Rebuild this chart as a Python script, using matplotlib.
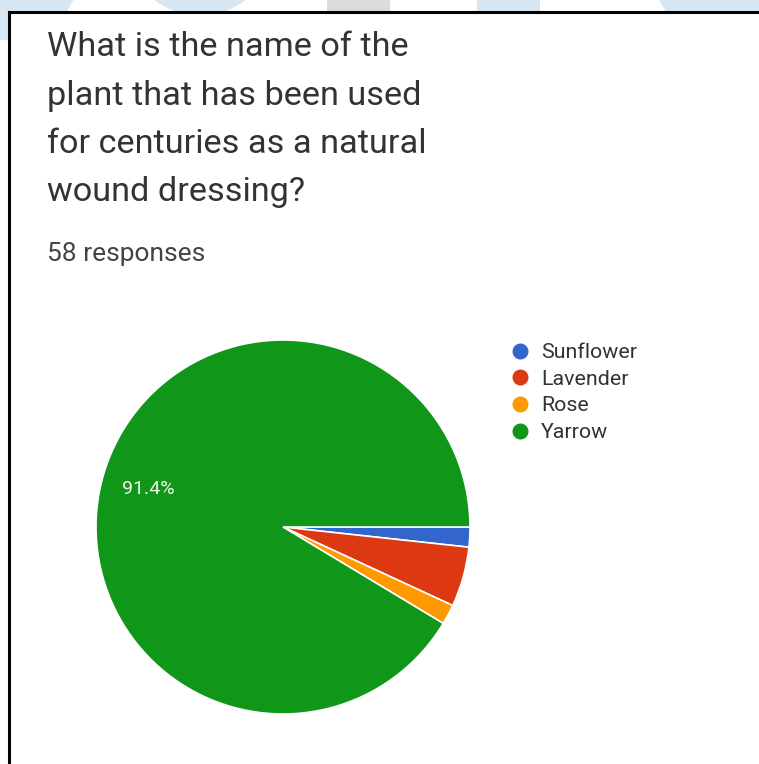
import matplotlib.pyplot as plt
from matplotlib.lines import Line2D
from matplotlib.patches import Circle, Rectangle

W, H = 759, 764

title = "What is the name of the\nplant that has been used\nfor centuries as a natural\nwound dressing?"
subtitle = "58 responses"

labels = ["Sunflower", "Lavender", "Rose", "Yarrow"]
counts = [1, 3, 1, 53]
colors = ["#3366cc", "#dc3912", "#ff9900", "#109618"]

plt.rcParams["font.family"] = ["Roboto", "DejaVu Sans"]

fig = plt.figure(figsize=(W / 100, H / 100), dpi=100)


def px(x, y):
    # pixel coords (top-left origin) -> figure fraction
    return x / W, 1 - y / H


# faint backdrop shapes peeking out above the card
for cx, cy, r in [(10, -30, 70), (200, -60, 75), (740, -40, 90)]:
    fig.patches.append(Circle(px(cx, cy), r / W, transform=fig.transFigure,
                              facecolor="#d6e6f2", edgecolor="none", zorder=0))
fig.patches.append(Rectangle(px(477, 12), 63 / W, 12 / H, transform=fig.transFigure,
                             facecolor="#d6e6f2", edgecolor="none", zorder=0))
fig.patches.append(Rectangle(px(327, 12), 63 / W, 12 / H, transform=fig.transFigure,
                             facecolor="#dcdcdc", edgecolor="none", zorder=0))
fig.patches.append(Rectangle(px(9, 764), (W - 9) / W, (764 - 12) / H, transform=fig.transFigure,
                             facecolor="white", edgecolor="none", zorder=1))

# card border: left and top edges only
fig.add_artist(Line2D([9 / W, 9 / W], [0, 1 - 12 / H], color="black", lw=2.2, zorder=3))
fig.add_artist(Line2D([9 / W, 1], [1 - 12 / H, 1 - 12 / H], color="black", lw=2.2, zorder=3))

x0, y0 = px(47, 31)
fig.text(x0, y0, title, ha="left", va="top", fontsize=24.7, color="#333333",
         linespacing=1.66, zorder=4)
x1, y1 = px(47, 254)
fig.text(x1, y1, subtitle, ha="left", va="center", fontsize=19, color="#444444", zorder=4)

# pie centred at (283, 527) px with radius 187 px
cx, cy, r = 283, 527, 187
ax = fig.add_axes([(cx - r) / W, (H - cy - r) / H, 2 * r / W, 2 * r / H])
ax.set_zorder(5)


def pct(v):
    return f"{v:.1f}%" if v > 10 else ""


wedges, texts, autotexts = ax.pie(
    counts, colors=colors, startangle=0, counterclock=False,
    autopct=pct, pctdistance=0.75,
    wedgeprops=dict(edgecolor="white", linewidth=1.2),
    textprops=dict(color="#eef7ee", fontsize=14),
)
ax.set_xlim(-1, 1)
ax.set_ylim(-1, 1)
ax.axis("off")

handles = [Line2D([], [], marker="o", linestyle="none", markersize=10.5,
                  markerfacecolor=c, markeredgecolor=c) for c in colors]
lx, ly = px(509, 343)
leg = fig.legend(handles, labels, loc="upper left", bbox_to_anchor=(lx, ly),
                 frameon=False, fontsize=15.4, handletextpad=0.5,
                 labelspacing=0.36, handlelength=1.0, borderaxespad=0, borderpad=0)
for t in leg.get_texts():
    t.set_color("#333333")
leg.set_zorder(6)

fig.savefig("out.png", dpi=100, facecolor="white")
